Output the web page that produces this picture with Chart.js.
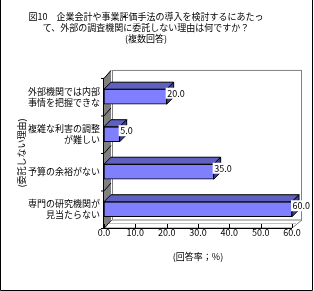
<!DOCTYPE html>
<html>
<head>
<meta charset="utf-8">
<script src="https://cdn.jsdelivr.net/npm/chart.js@4/dist/chart.umd.min.js"></script>
<style>
  body { margin: 0; background: #fff; }
  canvas { display: block; }
</style>
</head>
<body>
<canvas id="chart" width="314" height="291"></canvas>
<script>
// --- data ---
const titleLines = [
    '図10　企業会計や事業評価手法の導入を検討するにあたっ',
    'て、外部の調査機関に委託しない理由は何ですか？',
    '(複数回答)'
];
const categories = [
    ['外部機関では内部', '事情を把握できな'],
    ['複雑な利害の調整', 'が難しい'],
    ['予算の余裕がない'],
    ['専門の研究機関が', '見当たらない']
];
const values = [20.0, 5.0, 35.0, 60.0];
const xTicks = [0, 10, 20, 30, 40, 50, 60];
const xTitle = '(回答率；%)';
const yTitle = '(委託しない理由)';

const FONT = '"Noto Sans CJK JP", "Noto Sans", sans-serif';
const DEPTH = 7;       // bar depth
const WALL_DX = 8, WALL_DY = 8;

// 3D look: walls, floor, bar top/end faces, value boxes
const pseudo3d = {
    id: 'pseudo3d',
    beforeDatasetsDraw(chart) {
        const { ctx, chartArea: a, scales } = chart;
        const L = a.left, R = a.right, T = a.top, B = a.bottom;
        ctx.save();
        // back wall
        ctx.strokeStyle = '#808080';
        ctx.lineWidth = 1;
        ctx.strokeRect(L + WALL_DX + 0.5, T - WALL_DY + 0.5, R - L + 1, B - T);
        // floor
        ctx.beginPath();
        ctx.moveTo(L, B);
        ctx.lineTo(L + WALL_DX, B - WALL_DY);
        ctx.lineTo(R + WALL_DX + 2, B - WALL_DY);
        ctx.lineTo(R, B);
        ctx.closePath();
        ctx.fillStyle = '#ffffff';
        ctx.fill();
        ctx.strokeStyle = '#808080';
        ctx.stroke();
        ctx.beginPath();
        ctx.moveTo(L + 2, B - 4.5);
        ctx.lineTo(R + 4, B - 4.5);
        ctx.strokeStyle = '#c0c0c0';
        ctx.stroke();
        // left wall
        ctx.beginPath();
        ctx.moveTo(L, T);
        ctx.lineTo(L + WALL_DX - 1, T - WALL_DY);
        ctx.lineTo(L + WALL_DX - 1, B - WALL_DY);
        ctx.lineTo(L, B);
        ctx.closePath();
        ctx.fillStyle = '#808080';
        ctx.fill();
        ctx.strokeStyle = '#000';
        ctx.beginPath();
        ctx.moveTo(L - 0.5, T);
        ctx.lineTo(L - 0.5, B);
        ctx.stroke();
        // category boundary marks on the wall
        const y = scales.y;
        for (let i = 0; i <= categories.length; i++) {
            const yb = i === 0 ? T : i === categories.length ? B : (y.getPixelForTick(i - 1) + y.getPixelForTick(i)) / 2;
            ctx.beginPath();
            ctx.moveTo(L - 3, yb + 0.5);
            ctx.lineTo(L, yb + 0.5);
            ctx.lineTo(L + WALL_DX - 1, yb - WALL_DY + 0.5);
            ctx.stroke();
        }
        // front floor edge + ticks
        ctx.beginPath();
        ctx.moveTo(L, B + 0.5);
        ctx.lineTo(R, B + 0.5);
        ctx.stroke();
        const x = scales.x;
        xTicks.forEach(v => {
            const px = Math.round(x.getPixelForValue(v)) + 0.5;
            ctx.beginPath();
            ctx.moveTo(px, B - 4);
            ctx.lineTo(px, B);
            ctx.stroke();
        });
        ctx.restore();
    },
    afterDatasetsDraw(chart) {
        const { ctx } = chart;
        const meta = chart.getDatasetMeta(0);
        ctx.save();
        ctx.lineWidth = 1;
        ctx.strokeStyle = '#000';
        meta.data.forEach((bar, i) => {
            const { x, y, base, height } = bar.getProps(['x', 'y', 'base', 'height'], true);
            const top = y - height / 2, bot = y + height / 2;
            // top face
            ctx.beginPath();
            ctx.moveTo(base, top);
            ctx.lineTo(base + DEPTH, top - DEPTH);
            ctx.lineTo(x + DEPTH, top - DEPTH);
            ctx.lineTo(x, top);
            ctx.closePath();
            ctx.fillStyle = '#6060c0';
            ctx.fill();
            ctx.stroke();
            // end face
            ctx.beginPath();
            ctx.moveTo(x, top);
            ctx.lineTo(x + DEPTH, top - DEPTH);
            ctx.lineTo(x + DEPTH, bot - DEPTH);
            ctx.lineTo(x, bot);
            ctx.closePath();
            ctx.fillStyle = '#404090';
            ctx.fill();
            ctx.stroke();
            // value box
            const label = values[i].toFixed(1);
            ctx.font = '9px ' + FONT;
            const w = ctx.measureText(label).width;
            const cy = y - 3.5;
            ctx.fillStyle = '#fff';
            ctx.fillRect(x - 1, cy - 5.5, w + 3, 11);
            ctx.fillStyle = '#000';
            ctx.textBaseline = 'middle';
            ctx.textAlign = 'left';
            ctx.fillText(label, x + 0.5, cy);
        });
        ctx.restore();
    },
    afterDraw(chart) {
        const { ctx } = chart;
        ctx.save();
        ctx.strokeStyle = '#000';
        ctx.lineWidth = 1;
        ctx.beginPath();
        ctx.moveTo(0.5, 0);
        ctx.lineTo(0.5, 290.5);
        ctx.lineTo(312.5, 290.5);
        ctx.lineTo(312.5, 0);
        ctx.stroke();
        ctx.restore();
    }
};

new Chart(document.getElementById('chart'), {
    type: 'bar',
    data: {
        labels: categories,
        datasets: [{
            data: values,
            backgroundColor: '#8080ff',
            borderColor: '#000',
            borderWidth: 1,
            borderSkipped: false,
            barThickness: 15
        }]
    },
    options: {
        indexAxis: 'y',
        responsive: false,
        animation: false,
        layout: { padding: { right: 22 } },
        plugins: {
            legend: { display: false },
            tooltip: { enabled: false },
            title: {
                display: true,
                text: titleLines,
                color: '#000',
                font: { family: FONT, size: 9, weight: 'normal', lineHeight: 1.22 },
                padding: { top: 11, bottom: 34 }
            }
        },
        scales: {
            x: {
                min: 0,
                max: 60,
                afterFit: s => { s.height = 63; },
                afterBuildTicks: s => { s.ticks = xTicks.map(v => ({ value: v })); },
                grid: { display: false, drawTicks: false, tickLength: 0 },
                border: { display: false },
                ticks: {
                    color: '#000',
                    padding: -1,
                    maxRotation: 0,
                    font: { family: FONT, size: 9 },
                    callback: v => Number(v).toFixed(1)
                },
                title: {
                    display: true,
                    text: xTitle,
                    color: '#000',
                    font: { family: FONT, size: 9 },
                    padding: { top: 8, bottom: 29 }
                }
            },
            y: {
                afterFit: s => { s.width = 104; },
                grid: { display: false, drawTicks: false, tickLength: 0 },
                border: { display: false },
                ticks: {
                    color: '#000',
                    padding: 4,
                    font: { family: FONT, size: 9, lineHeight: 1.2 }
                },
                title: {
                    display: true,
                    text: yTitle,
                    color: '#000',
                    font: { family: FONT, size: 9 },
                    padding: { top: 16, bottom: 0 }
                }
            }
        }
    },
    plugins: [pseudo3d]
});
</script>
</body>
</html>
